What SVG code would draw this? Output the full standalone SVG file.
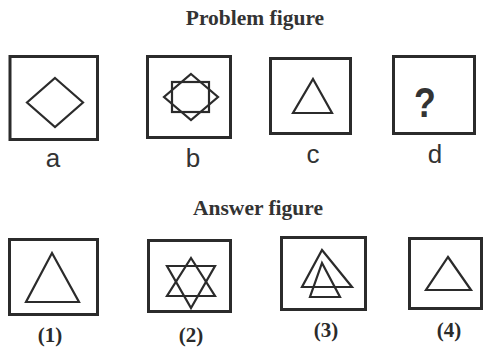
<svg xmlns="http://www.w3.org/2000/svg" width="489" height="348" viewBox="0 0 489 348">
<style>
.frame{fill:none;stroke:#2b2b2b;stroke-width:3}
.shape{fill:none;stroke:#2b2b2b;stroke-width:2.2;stroke-linejoin:miter}
.title{font-family:"Liberation Serif",serif;font-weight:bold;font-size:21.5px;fill:#333;text-anchor:middle}
.lbl{font-family:"Liberation Sans",sans-serif;font-size:26px;fill:#333;text-anchor:middle}
.num{font-family:"Liberation Serif",serif;font-weight:bold;font-size:21px;fill:#2b2b2b;text-anchor:middle}
</style>
<rect width="489" height="348" fill="#fff"/>
<text class="title" x="255" y="25">Problem figure</text>
<text class="title" x="258" y="215">Answer figure</text>
<g id="node-a">
<rect class="frame" x="10" y="56.5" width="87.5" height="83"/>
<polygon class="shape" points="55,78 83,102.5 55,127 27,102.5"/>
<text class="lbl" x="53" y="167">a</text>
</g>
<g id="node-b">
<rect class="frame" x="147.5" y="56.5" width="83" height="81"/>
<rect class="shape" x="172" y="82" width="37" height="30"/>
<polygon class="shape" points="191,74 218,97 191,120 164,97"/>
<text class="lbl" x="193" y="167">b</text>
</g>
<g id="node-c">
<rect class="frame" x="270.5" y="58.5" width="80" height="75"/>
<polygon class="shape" points="313,79 332,113 293,113"/>
<text class="lbl" x="313" y="163">c</text>
</g>
<g id="node-d">
<rect class="frame" x="393.5" y="56.5" width="81" height="77"/>
<text x="425" y="117" font-family="Liberation Sans, sans-serif" font-weight="bold" font-size="42" fill="#333" text-anchor="middle" transform="translate(425 0) scale(0.85 1) translate(-425 0)">?</text>
<text class="lbl" x="435" y="163">d</text>
</g>
<g id="node-1">
<rect class="frame" x="9.5" y="239.5" width="88" height="75"/>
<polygon class="shape" points="52,253 79,302 26,302"/>
<text class="num" x="50" y="342">(1)</text>
</g>
<g id="node-2">
<rect class="frame" x="148.5" y="240.5" width="82" height="71"/>
<polygon class="shape" points="191,258 215,296 167,296"/>
<polygon class="shape" points="167,266 215,266 191,308"/>
<text class="num" x="191" y="342">(2)</text>
</g>
<g id="node-3">
<rect class="frame" x="281.5" y="237.5" width="84" height="72"/>
<polygon class="shape" points="322,250 352,287 302,287"/>
<polygon class="shape" points="322,263 340,297 310,297"/>
<text class="num" x="326" y="337">(3)</text>
</g>
<g id="node-4">
<rect class="frame" x="409.5" y="238.5" width="72" height="70"/>
<polygon class="shape" points="448,257 471,290 426,290"/>
<text class="num" x="449" y="337">(4)</text>
</g>
<g id="connectors"/>
</svg>
